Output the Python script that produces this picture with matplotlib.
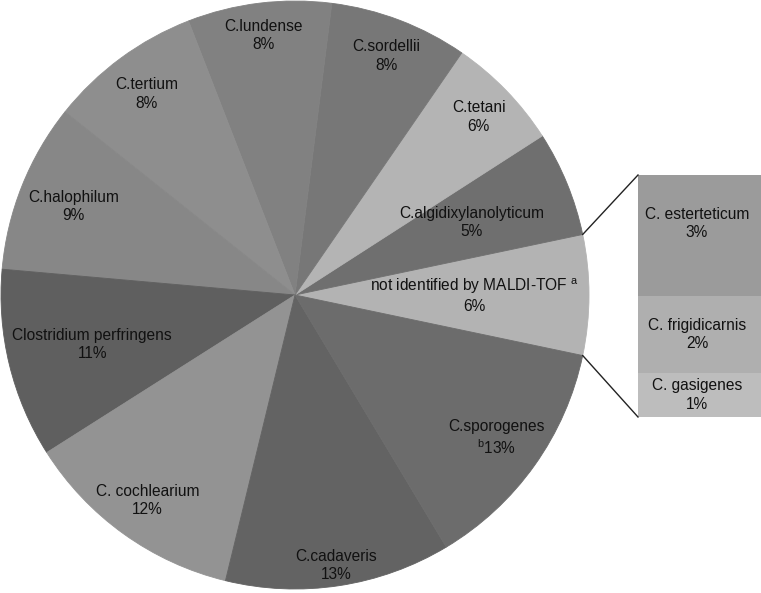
import numpy as np
import matplotlib.pyplot as plt

plt.rcParams['font.family'] = ['Liberation Sans', 'DejaVu Sans']
plt.rcParams['mathtext.fontset'] = 'custom'
plt.rcParams['mathtext.rm'] = 'Liberation Sans'

# pie slices, counter-clockwise starting with the exploded one on the right
species = ['not identified by MALDI-TOF $^{\\mathrm{a}}$', 'C.algidixylanolyticum', 'C.tetani',
           'C.sordellii', 'C.lundense', 'C.tertium', 'C.halophilum',
           'Clostridium perfringens', 'C. cochlearium', 'C.cadaveris', 'C.sporogenes']
shares = [6.6, 5.8, 6.3, 7.6, 7.9, 8.4, 9.3, 10.4, 12.2, 12.4, 13.1]
pct_text = ['6%', '5%', '6%', '8%', '8%', '8%', '9%', '11%', '12%', '13%', '$^{\\mathrm{b}}$13%']
pie_colors = ['#b3b3b3', '#6f6f6f', '#b4b4b4', '#777777', '#818181', '#8e8e8e',
              '#878787', '#5f5f5f', '#939393', '#636363', '#6c6c6c']
label_r = [0.61, 0.65, 0.87, 0.87, 0.89, 0.85, 0.81, 0.71, 0.86, 0.93, 0.84]

# bar breaking down the "not identified" slice (top to bottom)
sub_species = ['C. esterteticum', 'C. frigidicarnis', 'C. gasigenes']
sub_shares = [3.0, 1.9, 1.1]
sub_pct = ['3%', '2%', '1%']
sub_colors = ['#9b9b9b', '#afafaf', '#bdbdbd']

W, H = 761, 593
fs = 11.2
fig = plt.figure(figsize=(W / 100, H / 100), dpi=100)
ax = fig.add_axes([0, 0, 1, 1])

cx, cy, R = 295, 298, 294
start = -shares[0] / sum(shares) * 360 / 2
wedges, _ = ax.pie(shares, colors=pie_colors, startangle=start, center=(cx, cy),
                   radius=R, frame=True, wedgeprops=dict(linewidth=0.6))
for w, c in zip(wedges, pie_colors):
    w.set_edgecolor(c)

for w, name, pct, r in zip(wedges, species, pct_text, label_r):
    mid = np.deg2rad((w.theta1 + w.theta2) / 2)
    ax.text(cx + r * R * np.cos(mid), cy + r * R * np.sin(mid), name + '\n' + pct,
            ha='center', va='center', fontsize=fs, linespacing=1.3, color='#111111')

# stacked bar
bx, bw = 638, 130
btop, bbot = H - 175, H - 417
scale = (btop - bbot) / sum(sub_shares)
top = btop
for name, v, pct, c in zip(sub_species, sub_shares, sub_pct, sub_colors):
    h = v * scale
    ax.bar(bx, h, width=bw, bottom=top - h, align='edge', color=c, linewidth=0)
    ax.text(697, top - h / 2 + (12 if v == max(sub_shares) else 0), name + '\n' + pct,
            ha='center', va='center', fontsize=fs, linespacing=1.3, color='#111111')
    top -= h

# connector lines from the slice edges to the bar corners
for ang, yb in [(wedges[0].theta2, btop), (wedges[0].theta1, bbot)]:
    a = np.deg2rad(ang)
    ax.plot([cx + R * np.cos(a), bx], [cy + R * np.sin(a), yb], color='#222222', lw=1)

ax.set_xlim(0, W)
ax.set_ylim(0, H)
ax.set_aspect('auto')
ax.axis('off')
fig.savefig('out.png', dpi=100)
